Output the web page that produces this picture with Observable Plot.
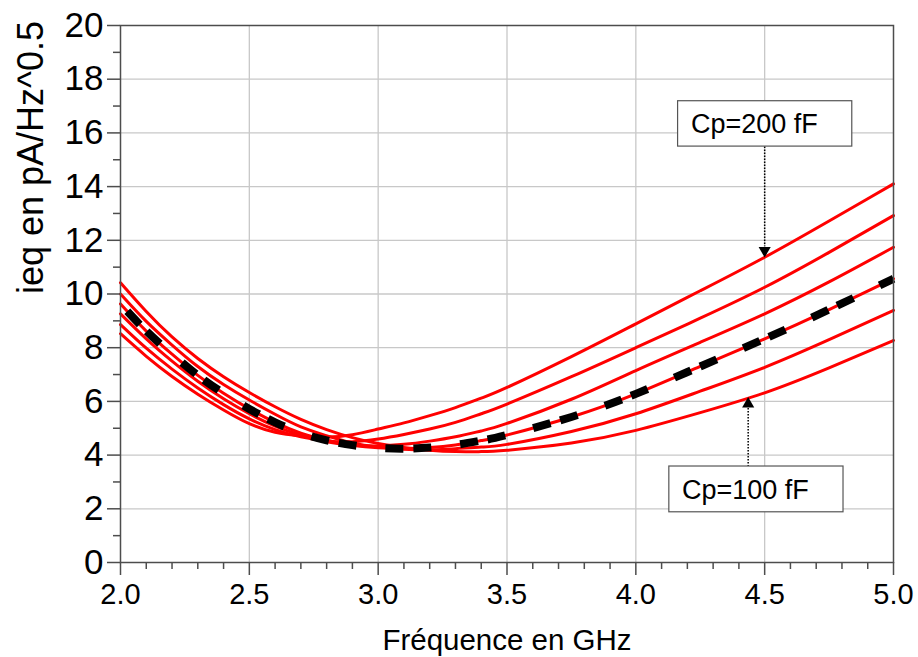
<!DOCTYPE html>
<html>
<head>
<meta charset="utf-8">
<script src="https://cdn.jsdelivr.net/npm/d3@7"></script>
<script src="https://cdn.jsdelivr.net/npm/@observablehq/plot@0.6"></script>
<style>
  html, body { margin: 0; padding: 0; background: white; }
  #chart svg { display: block; }
</style>
</head>
<body>
<div id="chart"></div>
<script>
// Frequency (GHz)
const freq = [2.0,2.1,2.2,2.3,2.4,2.5,2.6,2.7,2.8,2.9,3.0,3.1,3.2,3.3,3.4,3.5,3.75,4.0,4.25,4.5,4.75,5.0];
// ieq (pA/Hz^0.5) per Cp value
const cp100 = [10.42,9.35,8.4,7.6,6.92,6.33,5.8,5.33,4.95,4.65,4.43,4.28,4.18,4.13,4.13,4.18,4.45,4.92,5.58,6.32,7.25,8.27];
const cp120 = [10.0,8.98,8.1,7.3,6.63,6.05,5.52,5.05,4.72,4.45,4.3,4.22,4.2,4.24,4.3,4.4,4.88,5.54,6.38,7.27,8.3,9.39];
const cp140 = [9.63,8.62,7.76,6.97,6.3,5.72,5.22,4.82,4.55,4.37,4.27,4.24,4.28,4.38,4.54,4.75,5.42,6.28,7.3,8.33,9.42,10.57];
const cp160 = [9.26,8.33,7.5,6.75,6.1,5.54,5.08,4.74,4.5,4.37,4.34,4.4,4.52,4.68,4.9,5.18,6.08,7.15,8.2,9.26,10.45,11.74];
const cp180 = [8.86,7.98,7.2,6.5,5.88,5.35,4.95,4.68,4.53,4.5,4.6,4.77,4.97,5.22,5.54,5.9,6.92,8.0,9.1,10.25,11.55,12.92];
const cp200 = [8.52,7.68,6.93,6.27,5.68,5.17,4.85,4.72,4.67,4.76,4.97,5.2,5.47,5.77,6.12,6.52,7.67,8.89,10.12,11.37,12.72,14.1];
const seriesNames = ["100 fF","120 fF","140 fF","160 fF","180 fF","200 fF"];
const seriesValues = [cp100, cp120, cp140, cp160, cp180, cp200];
const highlighted = "140 fF";

// Tick values
const yMajor = [0,2,4,6,8,10,12,14,16,18,20];
const yMinor = [1,3,5,7,9,11,13,15,17,19];
const xMajor = [2.0,2.5,3.0,3.5,4.0,4.5,5.0];
const xMinor = [2.1,2.2,2.3,2.4,2.6,2.7,2.8,2.9,3.1,3.2,3.3,3.4,3.6,3.7,3.8,3.9,4.1,4.2,4.3,4.4,4.6,4.7,4.8,4.9];

// Annotations (label, box extent, arrow)
const annotLabels = ["Cp=200 fF","Cp=100 fF"];
const annotBoxX1 = [4.164, 4.13];
const annotBoxX2 = [4.84, 4.806];
const annotBoxY1 = [15.49, 1.87];
const annotBoxY2 = [17.18, 3.575];
const annotTextX = [4.46, 4.425];
const annotTextY = [16.3, 2.7];
const arrowX = [4.5, 4.436];
const arrowFrom = [15.49, 3.575];
const arrowTo = [11.78, 5.75];
const arrowHeadY = [11.62, 5.9];
const arrowHeadRotate = [180, 0];

const rows = seriesNames.flatMap((name, i) => freq.map((f, j) => ({cp: name, f, v: seriesValues[i][j]})));
const hiRows = rows.filter(d => d.cp === highlighted);
const annots = annotLabels.map((label, i) => ({
  label, x1: annotBoxX1[i], x2: annotBoxX2[i], y1: annotBoxY1[i], y2: annotBoxY2[i],
  tx: annotTextX[i], ty: annotTextY[i], ax: arrowX[i], a1: arrowFrom[i], a2: arrowTo[i],
  hy: arrowHeadY[i], rot: arrowHeadRotate[i]
}));

const font = "'Liberation Sans', Arial, sans-serif";
const axisColor = "#4d4d4d";

const chart = Plot.plot({
  width: 918,
  height: 657,
  marginLeft: 120,
  marginRight: 25,
  marginTop: 25,
  marginBottom: 95,
  style: {fontFamily: font, background: "white", color: "black"},
  x: {domain: [2, 5]},
  y: {domain: [0, 20]},
  marks: [
    Plot.gridY(yMajor.slice(1, -1), {stroke: "#c8c8c8", strokeOpacity: 1, strokeWidth: 1.3}),
    Plot.gridX(xMajor.slice(1, -1), {stroke: "#c8c8c8", strokeOpacity: 1, strokeWidth: 1.3}),
    Plot.line(rows, {x: "f", y: "v", z: "cp", stroke: "#ff0000", strokeWidth: 3, curve: "natural"}),
    Plot.line(hiRows, {x: "f", y: "v", stroke: "black", strokeWidth: 8, strokeDasharray: "18,10,18,29", strokeDashoffset: 65, strokeLinecap: "butt", curve: "natural"}),
    Plot.link(annots, {x1: "ax", x2: "ax", y1: "a1", y2: "a2", stroke: "black", strokeWidth: 1.5, strokeDasharray: "1.5,1.5"}),
    Plot.dot(annots, {x: "ax", y: "hy", symbol: "triangle", r: 4.5, fill: "black", stroke: "none", rotate: "rot"}),
    Plot.rect(annots, {x1: "x1", x2: "x2", y1: "y1", y2: "y2", fill: "white", stroke: "#555", strokeWidth: 1.2}),
    Plot.text(annots, {x: "tx", y: "ty", text: "label", fontSize: 27, fill: "black", textAnchor: "middle", lineAnchor: "middle"}),
    Plot.frame({stroke: axisColor, strokeWidth: 1.5}),
    Plot.axisY(yMajor, {tickSize: 13, tickPadding: 4, fontSize: 35, stroke: axisColor, strokeWidth: 1.5, label: null, fill: "black"}),
    Plot.axisY(yMinor, {tickSize: 7, text: null, stroke: axisColor, strokeWidth: 1.5, label: null}),
    Plot.axisX(xMajor, {tickSize: 13, tickPadding: 8, fontSize: 29, stroke: axisColor, strokeWidth: 1.5, tickFormat: d3.format(".1f"), label: null, fill: "black"}),
    Plot.axisX(xMinor, {tickSize: 7, text: null, stroke: axisColor, strokeWidth: 1.5, label: null}),
    Plot.text(["Fréquence en GHz"], {frameAnchor: "bottom", dy: 78, fontSize: 29.5, fill: "black", lineAnchor: "middle"}),
    Plot.text(["ieq en pA/Hz^0.5"], {frameAnchor: "left", dx: -89, rotate: -90, fontSize: 36, fill: "black", lineAnchor: "middle"})
  ]
});
document.getElementById("chart").appendChild(chart);
</script>
</body>
</html>
